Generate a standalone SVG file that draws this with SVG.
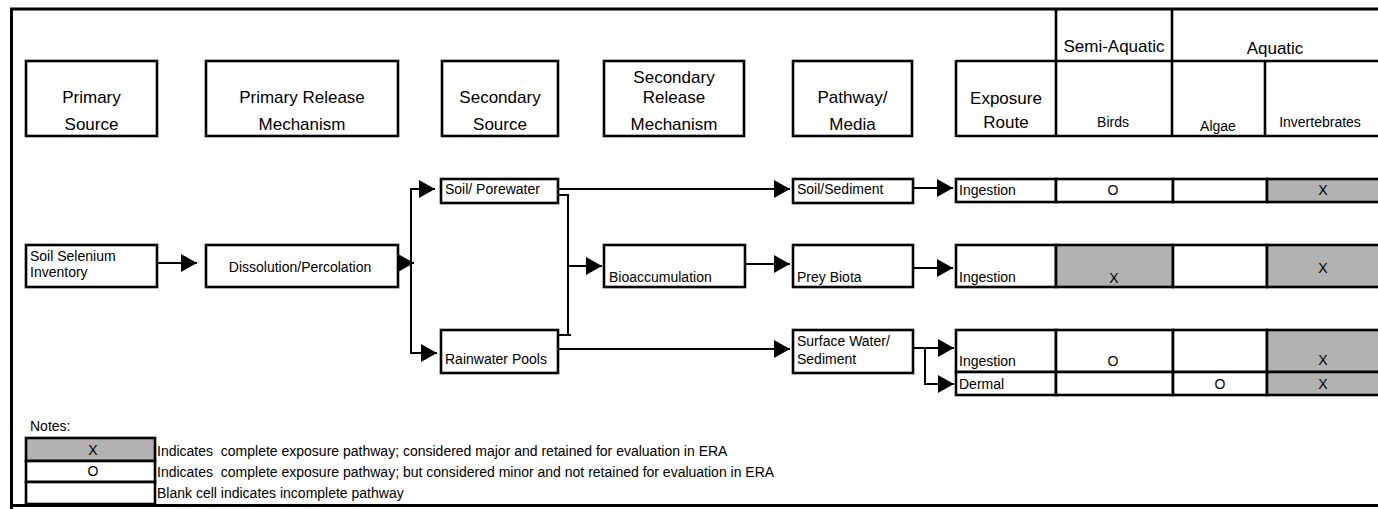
<svg xmlns="http://www.w3.org/2000/svg" width="1378" height="509" viewBox="0 0 1378 509">
<style>
.bx{fill:#fff;stroke:#000;stroke-width:2.6}
.gy{fill:#b2b2b2;stroke:#000;stroke-width:2.6}
.fr{stroke:#000;stroke-width:3;fill:none}
.tl{stroke:#000;stroke-width:2.6;fill:none}
.cn{stroke:#000;stroke-width:2;fill:none}
text{font-family:"Liberation Sans",Arial,sans-serif;fill:#000}
.h{font-size:17px;text-anchor:middle}
.t{font-size:14px}
.c{font-size:14px;text-anchor:middle}
.pre{white-space:pre}
</style>
<defs>
<marker id="ah" markerUnits="userSpaceOnUse" markerWidth="17" markerHeight="18" refX="16" refY="9" orient="auto"><path d="M0,0 L16,9 L0,18 Z" fill="#000"/></marker>
</defs>
<rect width="1378" height="509" fill="#fff"/>
<g id="frame">
<line class="fr" x1="10" y1="9" x2="1378" y2="9"/>
<line class="fr" x1="11.5" y1="8" x2="11.5" y2="509"/>
<line class="fr" x1="10" y1="505.5" x2="1378" y2="505.5"/>
</g>
<g id="hdr-primary-source"><rect class="bx" x="26" y="61" width="131" height="75"/><text class="h" x="91.5" y="103">Primary</text><text class="h" x="91.5" y="130">Source</text></g>
<g id="hdr-primary-release"><rect class="bx" x="206" y="61" width="192" height="75"/><text class="h" x="302" y="103">Primary Release</text><text class="h" x="302" y="130">Mechanism</text></g>
<g id="hdr-secondary-source"><rect class="bx" x="442" y="61" width="116" height="75"/><text class="h" x="500" y="103">Secondary</text><text class="h" x="500" y="130">Source</text></g>
<g id="hdr-secondary-release"><rect class="bx" x="604" y="61" width="140" height="75"/><text class="h" x="674" y="83">Secondary</text><text class="h" x="674" y="103">Release</text><text class="h" x="674" y="130">Mechanism</text></g>
<g id="hdr-pathway"><rect class="bx" x="793" y="61" width="119" height="75"/><text class="h" x="852.5" y="103">Pathway/</text><text class="h" x="852.5" y="130">Media</text></g>
<g id="hdr-receptors">
<line class="tl" x1="956" y1="61" x2="1378" y2="61"/>
<line class="tl" x1="956" y1="136" x2="1378" y2="136"/>
<line class="tl" x1="956" y1="60" x2="956" y2="137"/>
<line class="tl" x1="1056" y1="8" x2="1056" y2="137"/>
<line class="tl" x1="1172" y1="8" x2="1172" y2="137"/>
<line class="tl" x1="1265" y1="61" x2="1265" y2="137"/>
<text class="h" x="1006" y="104">Exposure</text><text class="h" x="1006" y="128">Route</text>
<text class="h" x="1114" y="52">Semi-Aquatic</text>
<text class="h" x="1275" y="54">Aquatic</text>
<text class="c" x="1113" y="127">Birds</text>
<text class="c" x="1218" y="131">Algae</text>
<text class="c" x="1320" y="127">Invertebrates</text>
</g>
<g id="connectors">
<line class="cn" x1="157" y1="263" x2="197" y2="263" marker-end="url(#ah)"/>
<line class="cn" x1="398" y1="263" x2="414" y2="263" marker-end="url(#ah)"/>
<line class="cn" x1="411" y1="189" x2="411" y2="353"/>
<line class="cn" x1="410" y1="189" x2="435" y2="189" marker-end="url(#ah)"/>
<line class="cn" x1="410" y1="353" x2="437" y2="353" marker-end="url(#ah)"/>
<line class="cn" x1="558" y1="189" x2="790" y2="189" marker-end="url(#ah)"/>
<polyline class="cn" points="558,195 568,195 568,335 558,335"/>
<line class="cn" x1="566" y1="335" x2="571" y2="335"/>
<line class="cn" x1="568" y1="266" x2="602" y2="266" marker-end="url(#ah)"/>
<line class="cn" x1="558" y1="349" x2="790" y2="349" marker-end="url(#ah)"/>
<line class="cn" x1="742" y1="264" x2="790" y2="264" marker-end="url(#ah)"/>
<line class="cn" x1="913" y1="188" x2="953" y2="188" marker-end="url(#ah)"/>
<line class="cn" x1="913" y1="268" x2="953" y2="268" marker-end="url(#ah)"/>
<line class="cn" x1="913" y1="348" x2="954" y2="348" marker-end="url(#ah)"/>
<polyline class="cn" points="925,348 925,384 954,384" marker-end="url(#ah)"/>
</g>
<g id="soil-selenium-inventory"><rect class="bx" x="26" y="245" width="131" height="42"/><text class="t" x="30" y="261">Soil Selenium</text><text class="t" x="30" y="277">Inventory</text></g>
<g id="dissolution-percolation"><rect class="bx" x="206" y="245" width="192" height="42"/><text class="c" x="300" y="272">Dissolution/Percolation</text></g>
<g id="soil-porewater"><rect class="bx" x="441" y="179" width="117" height="24"/><text class="t" x="445" y="194">Soil/ Porewater</text></g>
<g id="rainwater-pools"><rect class="bx" x="441" y="330" width="117" height="43"/><text class="t" x="445" y="364">Rainwater Pools</text></g>
<g id="bioaccumulation"><rect class="bx" x="604" y="245" width="141" height="42"/><text class="t" x="609" y="282">Bioaccumulation</text></g>
<g id="soil-sediment"><rect class="bx" x="793" y="179" width="120" height="24"/><text class="t" x="797" y="194">Soil/Sediment</text></g>
<g id="prey-biota"><rect class="bx" x="793" y="245" width="120" height="42"/><text class="t" x="797" y="282">Prey Biota</text></g>
<g id="surface-water-sediment"><rect class="bx" x="793" y="330" width="120" height="43"/><text class="t" x="797" y="346">Surface Water/</text><text class="t" x="797" y="364">Sediment</text></g>
<g id="row-soil-ingestion">
<rect class="bx" x="956" y="179" width="100" height="23"/><rect class="bx" x="1056" y="179" width="117" height="23"/><rect class="bx" x="1173" y="179" width="94" height="23"/><rect class="gy" x="1267" y="179" width="113" height="23"/>
<text class="t" x="959" y="195">Ingestion</text><text class="c" x="1113" y="195">O</text><text class="c" x="1323" y="195">X</text>
</g>
<g id="row-prey-ingestion">
<rect class="bx" x="956" y="245" width="100" height="42"/><rect class="gy" x="1056" y="245" width="117" height="42"/><rect class="bx" x="1173" y="245" width="94" height="42"/><rect class="gy" x="1267" y="245" width="113" height="42"/>
<text class="t" x="959" y="282">Ingestion</text><text class="c" x="1114" y="283">X</text><text class="c" x="1323" y="273">X</text>
</g>
<g id="row-surface-water">
<rect class="bx" x="956" y="330" width="100" height="42"/><rect class="bx" x="1056" y="330" width="117" height="42"/><rect class="bx" x="1173" y="330" width="94" height="42"/><rect class="gy" x="1267" y="330" width="113" height="42"/>
<rect class="bx" x="956" y="372" width="100" height="23"/><rect class="bx" x="1056" y="372" width="117" height="23"/><rect class="bx" x="1173" y="372" width="94" height="23"/><rect class="gy" x="1267" y="372" width="113" height="23"/>
<text class="t" x="959" y="366">Ingestion</text><text class="c" x="1113" y="366">O</text><text class="c" x="1323" y="365">X</text>
<text class="t" x="959" y="389">Dermal</text><text class="c" x="1220" y="389">O</text><text class="c" x="1323" y="389">X</text>
</g>
<g id="legend">
<text class="t" x="30" y="431">Notes:</text>
<rect class="gy" x="26" y="438" width="129" height="23"/>
<rect class="bx" x="26" y="461" width="129" height="21"/>
<rect class="bx" x="26" y="482" width="129" height="22"/>
<text class="c" x="93" y="455">X</text>
<text class="c" x="93" y="476">O</text>
<text class="t pre" x="157" y="456">Indicates  complete exposure pathway; considered major and retained for evaluation in ERA</text>
<text class="t pre" x="157" y="477">Indicates  complete exposure pathway; but considered minor and not retained for evaluation in ERA</text>
<text class="t" x="157" y="498">Blank cell indicates incomplete pathway</text>
</g>
</svg>
